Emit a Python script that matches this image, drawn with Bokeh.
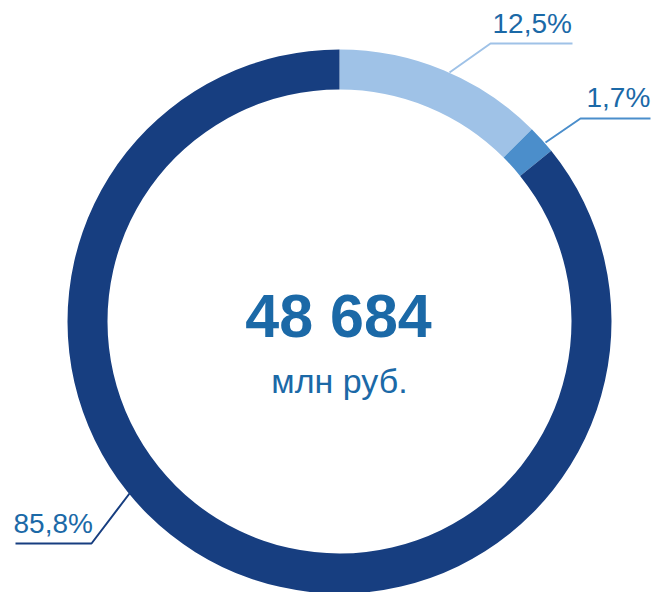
import math
from bokeh.plotting import figure
from bokeh.models import Range1d, ColumnDataSource
from bokeh.core.properties import value
from bokeh.embed import file_html
from bokeh.resources import INLINE

# ---- data ----
categories = ["A", "B", "C"]
shares = [12.5, 1.7, 85.8]
total_value = "48 684"
total_unit = "млн руб."

# ---- style / layout ----
colors = ["#9fc2e7", "#4b8ecb", "#173e80"]
text_color = "#1b69a7"
FONT = "Liberation Sans"
W, H = 651, 592  # page pixel space (y measured downwards)
cx, cy = 339, 321
r_out, r_in = 272, 232
# leader lines in page pixel coordinates: anchor on ring -> elbow -> end of underline
leaders = [
    [(449, 72), (490, 43), (572, 43)],
    [(545, 142), (580, 118), (650, 118)],
    [(129, 493), (91, 543), (15, 543)],
]
label_pos = [(492, 23), (586, 97), (13, 523)]

def Y(py):
    return H - py

p = figure(width=W, height=H, output_backend="svg", toolbar_location=None,
           x_range=Range1d(0, W), y_range=Range1d(0, H), min_border=0)
p.axis.visible = False
p.grid.visible = False
p.outline_line_color = None
p.background_fill_color = "white"

cum = 0.0
starts, ends = [], []
for s in shares:
    starts.append(math.pi / 2 - 2 * math.pi * cum / 100.0)
    cum += s
    ends.append(math.pi / 2 - 2 * math.pi * cum / 100.0)

src = ColumnDataSource(dict(cat=categories, start=starts, end=ends, color=colors,
                            x=[cx] * 3, y=[Y(cy)] * 3))
p.annular_wedge(x="x", y="y", inner_radius=r_in, outer_radius=r_out,
                start_angle="start", end_angle="end", direction="clock",
                fill_color="color", line_color=None, source=src)

for pts, c in zip(leaders, colors):
    p.line([q[0] for q in pts], [Y(q[1]) for q in pts], line_color=c, line_width=2)

labels = [f"{s:.1f}%".replace(".", ",") for s in shares]
p.text(x=[q[0] for q in label_pos], y=[Y(q[1]) for q in label_pos], text=labels,
       text_font=value(FONT), text_font_size="28px", text_color=text_color,
       text_align="left", text_baseline="alphabetic")

p.text(x=[cx - 1], y=[Y(315)], text=[total_value], text_font=value(FONT),
       text_font_size="61px", text_font_style="bold", text_color=text_color,
       text_align="center", text_baseline="alphabetic")
p.text(x=[cx], y=[Y(380)], text=[total_unit], text_font=value(FONT),
       text_font_size="34px", text_color=text_color,
       text_align="center", text_baseline="alphabetic")

open("out.html", "w").write(file_html(p, INLINE))
